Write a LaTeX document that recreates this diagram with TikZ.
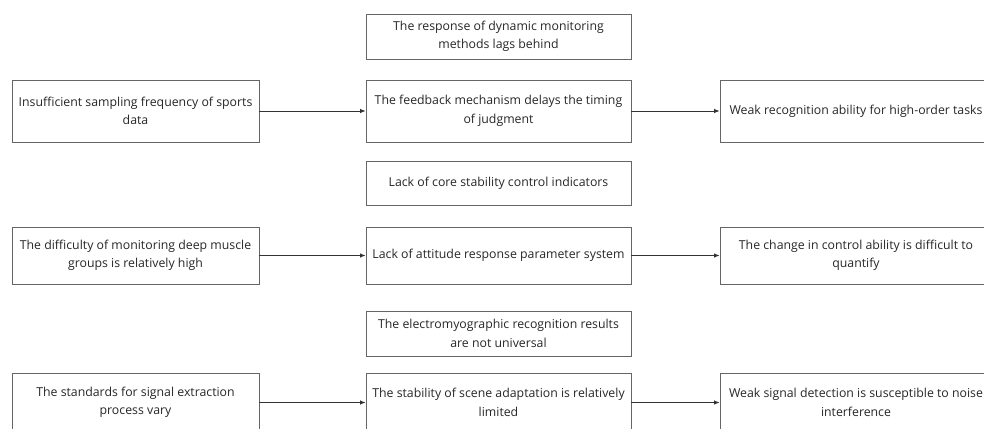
\documentclass[tikz,border=0pt]{standalone}
\usepackage{fontspec}
\setmainfont{Open Sans}
\usetikzlibrary{arrows.meta}
\tikzset{
  box/.style={draw=black!60, line width=0.9pt, align=center, inner sep=0pt,
    text=black!85, font=\fontsize{12.3}{18.5}\selectfont},
  conn/.style={draw=black!80, line width=0.8pt, -{Latex[length=5.5pt,width=4.5pt]}}
}
\begin{document}
\begin{tikzpicture}[x=1pt,y=-1pt]
\useasboundingbox (0,0) rectangle (984,428);
\clip (0,0) rectangle (984,428);
% middle column
\node[box, minimum width=265pt, minimum height=45pt] (t1) at (498.5,36.5) {The response of dynamic monitoring\\methods lags behind};
\node[box, minimum width=265pt, minimum height=62pt] (m1) at (498.5,111) {The feedback mechanism delays the timing\\of judgment};
\node[box, minimum width=265pt, minimum height=44pt] (t2) at (498.5,183) {Lack of core stability control indicators};
\node[box, minimum width=265pt, minimum height=57pt] (m2) at (498.5,255.5) {Lack of attitude response parameter system};
\node[box, minimum width=265pt, minimum height=45pt] (t3) at (498.5,333.5) {The electromyographic recognition results\\are not universal};
\node[box, minimum width=265pt, minimum height=59pt] (m3) at (498.5,402.5) {The stability of scene adaptation is relatively\\limited};
% left column
\node[box, minimum width=247pt, minimum height=62pt] (l1) at (135.5,111) {Insufficient sampling frequency of sports\\data};
\node[box, minimum width=247pt, minimum height=57pt] (l2) at (135.5,255.5) {The difficulty of monitoring deep muscle\\groups is relatively high};
\node[box, minimum width=247pt, minimum height=59pt] (l3) at (135.5,402.5) {The standards for signal extraction\\process vary};
% right column
\node[box, minimum width=272pt, minimum height=62pt] (r1) at (856,111) {Weak recognition ability for high-order tasks};
\node[box, minimum width=272pt, minimum height=57pt] (r2) at (856,255.5) {The change in control ability is difficult to\\quantify};
\node[box, minimum width=272pt, minimum height=59pt] (r3) at (856,402.5) {Weak signal detection is susceptible to noise\\interference};
% connectors
\draw[conn] (l1) -- (m1);
\draw[conn] (m1) -- (r1);
\draw[conn] (l2) -- (m2);
\draw[conn] (m2) -- (r2);
\draw[conn] (l3) -- (m3);
\draw[conn] (m3) -- (r3);
\end{tikzpicture}
\end{document}
